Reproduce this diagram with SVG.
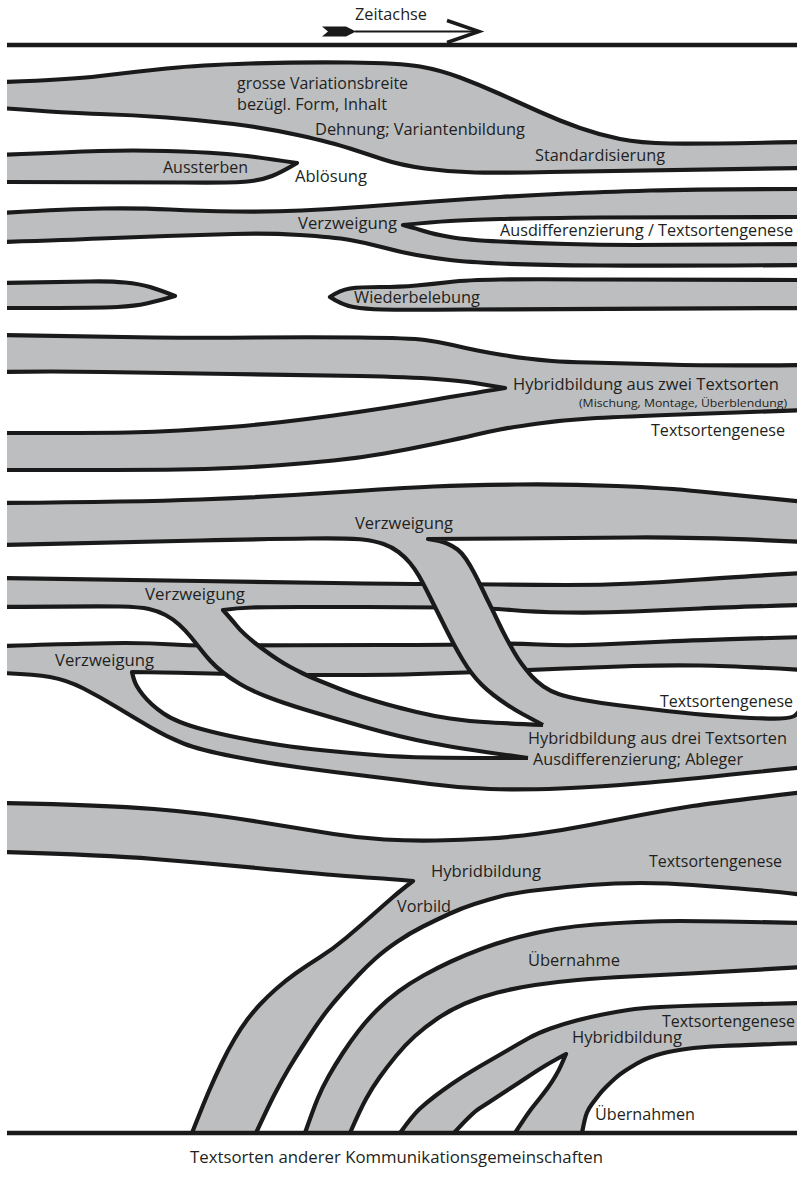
<svg xmlns="http://www.w3.org/2000/svg" width="801" height="1177" viewBox="0 0 801 1177">
<defs>
<clipPath id="clip"><rect x="7" y="0" width="790" height="1177"/></clipPath>
<style>
.band{fill:#bcbec0;stroke:#1a1a1a;stroke-width:4.2;stroke-linejoin:round}
.wedge{fill:#fff;stroke:#1a1a1a;stroke-width:4.2;stroke-linejoin:round}
.f{fill:#bcbec0;stroke:none}
.s{fill:none;stroke:#1a1a1a;stroke-width:4.2;stroke-linejoin:round}
.axis{stroke:#1a1a1a;stroke-width:4.5;fill:none}
text{font-family:"Open Sans","Liberation Sans",sans-serif;font-size:16px;fill:#231f20}
.small{font-size:11.5px}
</style>
</defs>
<rect width="801" height="1177" fill="#fff"/>
<g clip-path="url(#clip)">
<g id="axis-top">
<path class="axis" d="M0,45 L805,45"/>
<path d="M322,26.5 L346,26.5 L356,31.5 L346,36.5 L322,36.5 L328,31.5 Z" fill="#1a1a1a"/>
<path d="M355,31.5 L476,31.5" stroke="#1a1a1a" stroke-width="2"/>
<path d="M447,20.5 L479,31.5 L447,42.5" fill="none" stroke="#1a1a1a" stroke-width="3.5"/>
</g>
<g id="band-standardisierung">
<path class="band" d="M0,82 Q67,80 100,76 Q133,72 166.5,68.5 Q200,65 250,63.5 Q300,62 350,62.5 Q400,63 420,66.5 Q440,70 460,77.5 Q480,85 500,94 Q520,103 540,112 Q560,121 580,128 Q600,135 620,139 Q640,143 670,143.5 Q700,144 805,142 L805,168 Q600,171 550,172 Q500,173 475,172.5 Q450,172 425,168.5 Q400,165 383.5,159.5 Q367,154 350,148.5 Q333,143 300,135.5 Q267,128 233.5,124 Q200,120 166.5,117.5 Q133,115 100,114 Q67,113 0,108 Z"/>
</g>
<g id="band-aussterben">
<path class="band" d="M0,155 Q67,152 100,151 Q133,150 166.5,151 Q200,152 220,153.5 Q240,155 255,157 Q270,159 297,163 Q282,172 272,176 Q262,180 247.5,181.5 Q233,183 183,182.5 Q133,182 0,182 Z"/>
</g>
<g id="band-verzweigung">
<path class="band" d="M0,213 Q67,209 103.5,208.5 Q140,208 170,209.5 Q200,211 235,211.5 Q270,212 301.5,210.5 Q333,209 366.5,206.5 Q400,204 433.5,201.5 Q467,199 500,197 Q533,195 566.5,193.5 Q600,192 650,190.5 Q700,189 805,189 L805,265 Q667,266 600,265.5 Q533,265 500,263.5 Q467,262 450,260 Q433,258 416.5,255 Q400,252 383.5,247.5 Q367,243 350,240 Q333,237 300,235 Q267,233 233.5,234 Q200,235 166.5,236 Q133,237 100,238.5 Q67,240 0,242 Z"/>
<path class="wedge" d="M403,225 Q433,222 450,221 Q467,220 500,219 Q533,218 600,217.5 Q667,217 805,217 L805,244 Q667,245 633.5,245 Q600,245 566.5,244 Q533,243 500,241.5 Q467,240 450,237 Q433,234 425.5,231.5 Q418,229 403,225 Z"/>
</g>
<g id="band-wiederbelebung">
<path class="band" d="M0,283 Q67,282 88.5,281.5 Q110,281 125,282.5 Q140,284 150,287 Q160,290 175,296 Q158,301 146.5,303.5 Q135,306 117.5,307 Q100,308 0,308 Z"/>
<path class="band" d="M330,297 Q340,290 350,288.5 Q360,287 380,287 Q400,287 416.5,285.5 Q433,284 450,282 Q467,280 500,279.5 Q533,279 600,279.5 Q667,280 805,280 L805,308 Q533,309 466.5,309.5 Q400,310 382.5,309.5 Q365,309 353.5,307 Q342,305 330,297 Z"/>
</g>
<g id="band-hybrid-zwei">
<path class="band" d="M0,335 Q103,337 154,337.5 Q205,338 256.5,337.5 Q308,337 359,337.5 Q410,338 425,340 Q440,342 452.5,345 Q465,348 477.5,350.5 Q490,353 502.5,355 Q515,357 527.5,358.5 Q540,360 552,361 Q564,362 589.5,362.5 Q615,363 666.5,364.5 Q718,366 805,365 L805,410 Q718,413 666.5,415 Q615,417 589.5,418.5 Q564,420 538.5,423.5 Q513,427 500,429.5 Q487,432 474.5,435 Q462,438 436,443.5 Q410,449 384.5,453.5 Q359,458 333.5,460.5 Q308,463 282,465 Q256,467 230.5,468 Q205,469 179.5,469.5 Q154,470 0,470 L0,433 Q103,433 128.5,432.5 Q154,432 179.5,430.5 Q205,429 230.5,427 Q256,425 282,422 Q308,419 333.5,415.5 Q359,412 384.5,408 Q410,404 436,399.5 Q462,395 505,388 Q487,385 474.5,383 Q462,381 436,379 Q410,377 359,376 Q308,375 231,374 Q154,373 102.5,372 Q51,371 0,372 Z"/>
</g>
<g id="band-hybrid-drei">
<path class="f" d="M0,646 Q100,643 125,643 Q150,643 173.5,644.5 Q197,646 248.5,645.5 Q300,645 380,645 Q460,645 485,644 Q510,643 538.5,644.5 Q567,646 600,644.5 Q633,643 666.5,641.5 Q700,640 805,637 L805,670 Q733,666 700,665.5 Q667,665 633.5,666 Q600,667 565,668.5 Q530,670 465,672.5 Q400,675 350,675 Q300,675 263.5,674.5 Q227,674 188.5,673 Q150,672 132,672 Q134,681 136.5,685.5 Q139,690 143,695 Q147,700 152,704.5 Q157,709 163.5,713.5 Q170,718 180,722 Q190,726 205,730 Q220,734 240,738 Q260,742 280,745 Q300,748 325,750.5 Q350,753 375,755 Q400,757 430,757.5 Q460,758 528,758 L545,705 L558.5,694 Q567,697 583.5,700 Q600,703 616.5,705 Q633,707 666.5,711 Q700,715 733.5,717 Q767,719 780,718.5 Q792,718 795,715.5 Q798,713 800,710 L805,710 L805,767 Q700,778 650,782.5 Q600,787 560,788.5 Q520,790 490,789 Q460,788 430,784 Q400,780 366.5,776 Q333,772 300,767.5 Q267,763 233.5,756.5 Q200,750 183.5,743.5 Q167,737 150,727 Q133,717 116.5,707 Q100,697 83.5,688.5 Q67,680 50,677 Q33,674 0,673 Z"/>
<path class="s" d="M0,646 Q100,643 125,643 Q150,643 173.5,644.5 Q197,646 248.5,645.5 Q300,645 380,645 Q460,645 485,644 Q510,643 538.5,644.5 Q567,646 600,644.5 Q633,643 666.5,641.5 Q700,640 805,637"/>
<path class="s" d="M805,670 Q733,666 700,665.5 Q667,665 633.5,666 Q600,667 565,668.5 Q530,670 465,672.5 Q400,675 350,675 Q300,675 263.5,674.5 Q227,674 188.5,673 Q150,672 132,672 Q134,681 136.5,685.5 Q139,690 143,695 Q147,700 152,704.5 Q157,709 163.5,713.5 Q170,718 180,722 Q190,726 205,730 Q220,734 240,738 Q260,742 280,745 Q300,748 325,750.5 Q350,753 375,755 Q400,757 430,757.5 Q460,758 528,758"/>
<path class="s" d="M0,673 Q33,674 50,677 Q67,680 83.5,688.5 Q100,697 116.5,707 Q133,717 150,727 Q167,737 183.5,743.5 Q200,750 233.5,756.5 Q267,763 300,767.5 Q333,772 366.5,776 Q400,780 430,784 Q460,788 490,789 Q520,790 560,788.5 Q600,787 650,782.5 Q700,778 805,767"/>
<path class="f" d="M0,578 Q133,580 200,581 Q267,582 333.5,583 Q400,584 433.5,584 Q467,584 500,584.5 Q533,585 566.5,585 Q600,585 633.5,583.5 Q667,582 700,579.5 Q733,577 805,573 L805,605 Q733,607 700,608.5 Q667,610 633.5,611.5 Q600,613 566.5,612.5 Q533,612 511.5,610 Q490,608 445,607.5 Q400,607 366.5,607 Q333,607 300,607 Q267,607 252,607.5 Q237,608 223,610 Q232,620 236,625 Q240,630 245,634.5 Q250,639 255,643 Q260,647 265.5,651 Q271,655 277,659 Q283,663 289.5,666.5 Q296,670 303,673.5 Q310,677 320,681 Q330,685 340,689 Q350,693 362.5,697 Q375,701 387.5,704.5 Q400,708 416.5,712 Q433,716 450,718.5 Q467,721 483.5,722 Q500,723 543,725 L528,758 Q462,749 431,743 Q400,737 366.5,727.5 Q333,718 308,710.5 Q283,703 266.5,696.5 Q250,690 240,684 Q230,678 223,672.5 Q216,667 210.5,661 Q205,655 200,648.5 Q195,642 190,636 Q185,630 179,624.5 Q173,619 165.5,615 Q158,611 149,609 Q140,607 120,606.5 Q100,606 0,607 Z"/>
<path class="s" d="M0,578 Q133,580 200,581 Q267,582 333.5,583 Q400,584 433.5,584 Q467,584 500,584.5 Q533,585 566.5,585 Q600,585 633.5,583.5 Q667,582 700,579.5 Q733,577 805,573"/>
<path class="s" d="M805,605 Q733,607 700,608.5 Q667,610 633.5,611.5 Q600,613 566.5,612.5 Q533,612 511.5,610 Q490,608 445,607.5 Q400,607 366.5,607 Q333,607 300,607 Q267,607 252,607.5 Q237,608 223,610 Q232,620 236,625 Q240,630 245,634.5 Q250,639 255,643 Q260,647 265.5,651 Q271,655 277,659 Q283,663 289.5,666.5 Q296,670 303,673.5 Q310,677 320,681 Q330,685 340,689 Q350,693 362.5,697 Q375,701 387.5,704.5 Q400,708 416.5,712 Q433,716 450,718.5 Q467,721 483.5,722 Q500,723 543,725"/>
<path class="s" d="M0,607 Q100,606 120,606.5 Q140,607 149,609 Q158,611 165.5,615 Q173,619 179,624.5 Q185,630 190,636 Q195,642 200,648.5 Q205,655 210.5,661 Q216,667 223,672.5 Q230,678 240,684 Q250,690 266.5,696.5 Q283,703 308,710.5 Q333,718 366.5,727.5 Q400,737 431,743 Q462,749 528,758"/>
<path class="f" d="M0,503 Q133,502 200,499.5 Q267,497 333.5,492.5 Q400,488 433.5,486.5 Q467,485 517,484.5 Q567,484 617,486 Q667,488 700,491.5 Q733,495 805,502 L805,542 Q700,537 633.5,537.5 Q567,538 511,538.5 Q455,539 428,539 Q441,541 447,543.5 Q453,546 457.5,549.5 Q462,553 466,559 Q470,565 474,572.5 Q478,580 482,588.5 Q486,597 490,605 Q494,613 498,621.5 Q502,630 506,637.5 Q510,645 514,652 Q518,659 522.5,665 Q527,671 532,676.5 Q537,682 543.5,686.5 Q550,691 558.5,694 L572,700 L565,718 L543,725 Q530,718 522.5,714 Q515,710 507.5,705 Q500,700 493.5,695 Q487,690 481.5,684.5 Q476,679 471.5,673 Q467,667 462.5,659.5 Q458,652 454,644.5 Q450,637 445,627 Q440,617 435.5,608 Q431,599 427,591 Q423,583 419,576 Q415,569 410,563 Q405,557 398.5,552 Q392,547 383.5,544 Q375,541 362.5,539.5 Q350,538 308.5,538.5 Q267,539 200,540.5 Q133,542 0,545 Z"/>
<path class="s" d="M0,503 Q133,502 200,499.5 Q267,497 333.5,492.5 Q400,488 433.5,486.5 Q467,485 517,484.5 Q567,484 617,486 Q667,488 700,491.5 Q733,495 805,502"/>
<path class="s" d="M805,542 Q700,537 633.5,537.5 Q567,538 511,538.5 Q455,539 428,539 Q441,541 447,543.5 Q453,546 457.5,549.5 Q462,553 466,559 Q470,565 474,572.5 Q478,580 482,588.5 Q486,597 490,605 Q494,613 498,621.5 Q502,630 506,637.5 Q510,645 514,652 Q518,659 522.5,665 Q527,671 532,676.5 Q537,682 543.5,686.5 Q550,691 558.5,694 Q567,697 583.5,700 Q600,703 616.5,705 Q633,707 666.5,711 Q700,715 733.5,717 Q767,719 780,718.5 Q792,718 795,715.5 Q798,713 800,710"/>
<path class="s" d="M0,545 Q133,542 200,540.5 Q267,539 308.5,538.5 Q350,538 362.5,539.5 Q375,541 383.5,544 Q392,547 398.5,552 Q405,557 410,563 Q415,569 419,576 Q423,583 427,591 Q431,599 435.5,608 Q440,617 445,627 Q450,637 454,644.5 Q458,652 462.5,659.5 Q467,667 471.5,673 Q476,679 481.5,684.5 Q487,690 493.5,695 Q500,700 507.5,705 Q515,710 522.5,714 Q530,718 543,725"/>
</g>
<g id="band-vorbild">
<path class="band" d="M0,803 Q103,805 154,809 Q205,813 256.5,821.5 Q308,830 333.5,834 Q359,838 384.5,839.5 Q410,841 436,840.5 Q462,840 487.5,838.5 Q513,837 538.5,833.5 Q564,830 589.5,825 Q615,820 641,815 Q667,810 692.5,806 Q718,802 805,792 L805,895 Q760,890 739,888.5 Q718,887 692.5,885 Q667,883 641,883 Q615,883 589.5,885 Q564,887 538.5,890 Q513,893 500,896.5 Q487,900 474.5,904 Q462,908 449,914 Q436,920 423,926.5 Q410,933 397.5,941.5 Q385,950 376,958 Q367,966 358.5,975 Q350,984 341.5,993.5 Q333,1003 326.5,1011.5 Q320,1020 314,1029 Q308,1038 301.5,1048 Q295,1058 288.5,1069 Q282,1080 275.5,1092.5 Q269,1105 256,1133 L192,1133 Q203,1105 209,1091 Q215,1077 221.5,1063.5 Q228,1050 234.5,1039 Q241,1028 247,1020 Q253,1012 260,1004.5 Q267,997 276,989 Q285,981 295.5,973.5 Q306,966 319.5,957.5 Q333,949 346,938 Q359,927 372,915.5 Q385,904 392.5,897.5 Q400,891 413,881 Q390,879 374.5,878 Q359,877 333.5,875 Q308,873 256.5,868 Q205,863 154,859 Q103,855 0,852 Z"/>
</g>
<g id="band-uebernahme">
<path class="band" d="M305,1133 Q313,1110 317.5,1099 Q322,1088 328.5,1076.5 Q335,1065 342.5,1053.5 Q350,1042 358.5,1031 Q367,1020 377,1010 Q387,1000 398.5,991.5 Q410,983 423.5,975.5 Q437,968 451,961.5 Q465,955 482.5,948.5 Q500,942 519,937 Q538,932 556.5,929 Q575,926 595,924.5 Q615,923 637.5,922 Q660,921 680,921 Q700,921 725,921.5 Q750,922 805,923 L805,967 Q720,972 690,973.5 Q660,975 630,976.5 Q600,978 577.5,980 Q555,982 535,985 Q515,988 497.5,992.5 Q480,997 465,1003.5 Q450,1010 437.5,1018.5 Q425,1027 415,1036 Q405,1045 396,1056 Q387,1067 379.5,1077.5 Q372,1088 366,1099 Q360,1110 350,1133 Z"/>
</g>
<g id="band-uebernahmen">
<path class="band" d="M400,1133 Q413,1115 419.5,1109 Q426,1103 434.5,1096.5 Q443,1090 452.5,1083.5 Q462,1077 472,1071 Q482,1065 492.5,1059 Q503,1053 511.5,1048 Q520,1043 529,1038 Q538,1033 550.5,1028.5 Q563,1024 576.5,1020.5 Q590,1017 602.5,1014.5 Q615,1012 628,1010 Q641,1008 660.5,1007 Q680,1006 699,1005.5 Q718,1005 805,1003 L805,1043 Q744,1045 722,1046 Q700,1047 686,1049 Q672,1051 664,1053 Q656,1055 649.5,1057.5 Q643,1060 637,1063.5 Q631,1067 625.5,1070.5 Q620,1074 615,1078.5 Q610,1083 606,1087 Q602,1091 598.5,1095.5 Q595,1100 592,1104 Q589,1108 587,1112.5 Q585,1117 582,1133 L515,1133 Q528,1113 532,1108 Q536,1103 540,1098 Q544,1093 548,1087.5 Q552,1082 555.5,1076 Q559,1070 561,1065.5 Q563,1061 566,1054 Q553,1061 545.5,1065.5 Q538,1070 529,1076 Q520,1082 511.5,1087.5 Q503,1093 495.5,1098 Q488,1103 480,1108 Q472,1113 454,1133 Z"/>
</g>
<g id="axis-bottom">
<path class="axis" d="M0,1133 L805,1133"/>
</g>
</g>
<g id="labels">
<text x="355" y="20" textLength="72" lengthAdjust="spacingAndGlyphs">Zeitachse</text>
<text x="237" y="89" textLength="171" lengthAdjust="spacingAndGlyphs">grosse Variationsbreite</text>
<text x="237" y="110" textLength="150" lengthAdjust="spacingAndGlyphs">bezügl. Form, Inhalt</text>
<text x="315" y="135" textLength="210" lengthAdjust="spacingAndGlyphs">Dehnung; Variantenbildung</text>
<text x="535" y="161" textLength="130" lengthAdjust="spacingAndGlyphs">Standardisierung</text>
<text x="163" y="173" textLength="85" lengthAdjust="spacingAndGlyphs">Aussterben</text>
<text x="295" y="182" textLength="72" lengthAdjust="spacingAndGlyphs">Ablösung</text>
<text x="298" y="229" textLength="99" lengthAdjust="spacingAndGlyphs">Verzweigung</text>
<text x="500" y="236" textLength="293" lengthAdjust="spacingAndGlyphs">Ausdifferenzierung / Textsortengenese</text>
<text x="354" y="303" textLength="126" lengthAdjust="spacingAndGlyphs">Wiederbelebung</text>
<text x="513" y="390" textLength="266" lengthAdjust="spacingAndGlyphs">Hybridbildung aus zwei Textsorten</text>
<text class="small" x="579" y="407" textLength="208" lengthAdjust="spacingAndGlyphs">(Mischung, Montage, Überblendung)</text>
<text x="651" y="436" textLength="134" lengthAdjust="spacingAndGlyphs">Textsortengenese</text>
<text x="355" y="529" textLength="98" lengthAdjust="spacingAndGlyphs">Verzweigung</text>
<text x="145" y="600" textLength="100" lengthAdjust="spacingAndGlyphs">Verzweigung</text>
<text x="55" y="666" textLength="99" lengthAdjust="spacingAndGlyphs">Verzweigung</text>
<text x="660" y="707" textLength="133" lengthAdjust="spacingAndGlyphs">Textsortengenese</text>
<text x="528" y="744" textLength="259" lengthAdjust="spacingAndGlyphs">Hybridbildung aus drei Textsorten</text>
<text x="533" y="765" textLength="210" lengthAdjust="spacingAndGlyphs">Ausdifferenzierung; Ableger</text>
<text x="431" y="877" textLength="110" lengthAdjust="spacingAndGlyphs">Hybridbildung</text>
<text x="649" y="867" textLength="133" lengthAdjust="spacingAndGlyphs">Textsortengenese</text>
<text x="397" y="912" textLength="54" lengthAdjust="spacingAndGlyphs">Vorbild</text>
<text x="528" y="966" textLength="92" lengthAdjust="spacingAndGlyphs">Übernahme</text>
<text x="662" y="1027" textLength="133" lengthAdjust="spacingAndGlyphs">Textsortengenese</text>
<text x="572" y="1043" textLength="110" lengthAdjust="spacingAndGlyphs">Hybridbildung</text>
<text x="595" y="1120" textLength="100" lengthAdjust="spacingAndGlyphs">Übernahmen</text>
<text x="190" y="1163" textLength="413" lengthAdjust="spacingAndGlyphs">Textsorten anderer Kommunikationsgemeinschaften</text>
</g>
</svg>
